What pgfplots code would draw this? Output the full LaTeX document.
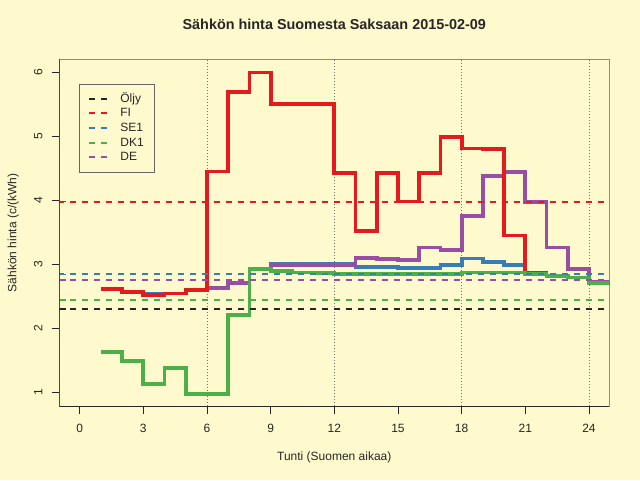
\documentclass[border=0pt]{standalone}
\usepackage{fontspec}
\setmainfont{Liberation Sans}
\setsansfont{Liberation Sans}
\usepackage{pgfplots}
\usepackage{pgfplotstable}
\pgfplotsset{compat=1.18}
\definecolor{bg}{RGB}{255,250,205}
\definecolor{cFI}{RGB}{228,26,28}
\definecolor{cSE}{RGB}{55,126,184}
\definecolor{cDK}{RGB}{77,175,74}
\definecolor{cDE}{RGB}{152,78,163}
\definecolor{txt}{RGB}{38,38,38}

\pgfplotstableread{
x FI SE DK DE
1 2.61 2.61 1.63 2.61
2 2.56 2.56 1.48 2.56
3 2.52 2.53 1.13 2.52
4 2.54 2.54 1.38 2.54
5 2.59 2.59 0.97 2.59
6 4.45 2.63 0.97 2.63
7 5.69 2.71 2.21 2.71
8 6.00 2.93 2.92 2.92
9 5.51 3.01 2.89 2.98
10 5.50 3.01 2.87 2.98
11 5.50 3.01 2.86 2.98
12 4.43 3.00 2.85 2.98
13 3.52 2.96 2.85 3.10
14 4.43 2.95 2.85 3.08
15 3.98 2.94 2.85 3.06
16 4.43 2.94 2.84 3.26
17 4.99 2.99 2.84 3.22
18 4.81 3.09 2.87 3.75
19 4.80 3.04 2.87 4.38
20 3.45 2.99 2.87 4.44
21 2.87 2.86 2.85 3.97
22 2.82 2.82 2.82 3.26
23 2.79 2.79 2.79 2.93
24 2.71 2.71 2.71 2.72
25 2.71 2.71 2.71 2.72
}\data

\pgfplotstableread{
x OIL FI SE DK DE
-1 2.30 3.98 2.84 2.44 2.75
26 2.30 3.98 2.84 2.44 2.75
}\avg

\begin{document}
\begin{tikzpicture}
\useasboundingbox (0,0) rectangle (640pt,480pt);
\fill[bg] (0,0) rectangle (640pt,480pt);
\begin{axis}[
  at={(59.3pt,73.3pt)}, anchor=south west,
  scale only axis, width=550pt, height=347.7pt,
  xmin=-0.96, xmax=24.96, ymin=0.77, ymax=6.21,
  xtick={0,3,...,24}, ytick={1,2,...,6},
  tick pos=left, tick align=outside, major tick length=7pt,
  tick style={txt, line width=0.8pt},
  axis line style={black!45, line width=0.8pt},
  font=\fontsize{12pt}{14pt}\selectfont,
  /pgf/number format/assume math mode=true,
  ticklabel style={font=\fontsize{12pt}{14pt}\selectfont, text=txt, inner sep=0pt},
  xticklabel style={anchor=base},
  yticklabel style={rotate=90, anchor=base},
  xticklabel shift=18.3pt,
  yticklabel shift=9.8pt,
  title={Sähkön hinta Suomesta Saksaan 2015-02-09},
  title style={at={(axis description cs:0.5,1.069)}, anchor=base, inner sep=0pt,
    font=\bfseries\fontsize{14.4pt}{16pt}\selectfont, text=txt},
  xlabel={Tunti (Suomen aikaa)},
  xlabel style={at={(axis description cs:0.5,-0.156)}, anchor=base, inner sep=0pt, text=txt},
  ylabel={Sähkön hinta (c/(kWh)},
  ylabel style={at={(axis description cs:-0.0782,0.5)}, anchor=base, inner sep=0pt, text=txt},
  legend style={at={(axis description cs:0.0359,0.928)}, anchor=north west,
    draw=black!60, fill=none, line width=0.6pt, inner xsep=9pt, inner ysep=7pt,
    row sep=0pt,
    nodes={inner sep=2pt, text height=8.7pt, text depth=2pt, text=txt,
      font=\fontsize{12pt}{14pt}\selectfont}},
  legend cell align=left,
  legend image code/.code={\draw[#1] (0pt,0pt) -- (19pt,0pt);},
]
% vertical dotted guide lines
\addplot[forget plot, draw=black!55, line width=0.7pt, dash pattern=on 1pt off 2pt] coordinates {(6,0.5) (6,7)};
\addplot[forget plot, draw=black!55, line width=0.7pt, dash pattern=on 1pt off 2pt] coordinates {(12,0.5) (12,7)};
\addplot[forget plot, draw=black!55, line width=0.7pt, dash pattern=on 1pt off 2pt] coordinates {(18,0.5) (18,7)};
\addplot[forget plot, draw=black!55, line width=0.7pt, dash pattern=on 1pt off 2pt] coordinates {(24,0.5) (24,7)};
% step series
\addplot[forget plot, const plot, solid, line width=3.8pt, draw=cSE] table[x=x, y=SE] {\data};
\addplot[forget plot, const plot, solid, line width=3.8pt, draw=cDE] table[x=x, y=DE] {\data};
\addplot[forget plot, const plot, solid, line width=3.8pt, draw=cFI] table[x=x, y=FI] {\data};
\addplot[forget plot, const plot, solid, line width=3.8pt, draw=cDK] table[x=x, y=DK] {\data};
% daily averages
\addplot[draw=txt, line width=2pt, dash pattern=on 6pt off 6pt] table[x=x, y=OIL] {\avg};
\addplot[draw=cFI, line width=2pt, dash pattern=on 6pt off 6pt] table[x=x, y=FI] {\avg};
\addplot[draw=cSE, line width=2pt, dash pattern=on 6pt off 6pt] table[x=x, y=SE] {\avg};
\addplot[draw=cDK, line width=2pt, dash pattern=on 6pt off 6pt] table[x=x, y=DK] {\avg};
\addplot[draw=cDE, line width=2pt, dash pattern=on 6pt off 6pt] table[x=x, y=DE] {\avg};
\legend{\kern9pt Öljy, \kern9pt FI, \kern9pt SE1, \kern9pt DK1, \kern9pt DE}
% rug marks on the y axis
\addplot[forget plot, solid, line width=1.4pt, draw=txt] coordinates {(-0.96,2.30) (-0.66,2.30)};
\addplot[forget plot, solid, line width=1.4pt, draw=cFI] coordinates {(-0.96,3.98) (-0.66,3.98)};
\addplot[forget plot, solid, line width=1.4pt, draw=cSE] coordinates {(-0.96,2.84) (-0.66,2.84)};
\addplot[forget plot, solid, line width=1.4pt, draw=cDK] coordinates {(-0.96,2.44) (-0.66,2.44)};
\addplot[forget plot, solid, line width=1.4pt, draw=cDE] coordinates {(-0.96,2.75) (-0.66,2.75)};
% dark left and bottom axis lines
\draw[txt, line width=0.9pt] (rel axis cs:0,1) -- (rel axis cs:0,0) -- (rel axis cs:1,0);
\end{axis}
\end{tikzpicture}
\end{document}
